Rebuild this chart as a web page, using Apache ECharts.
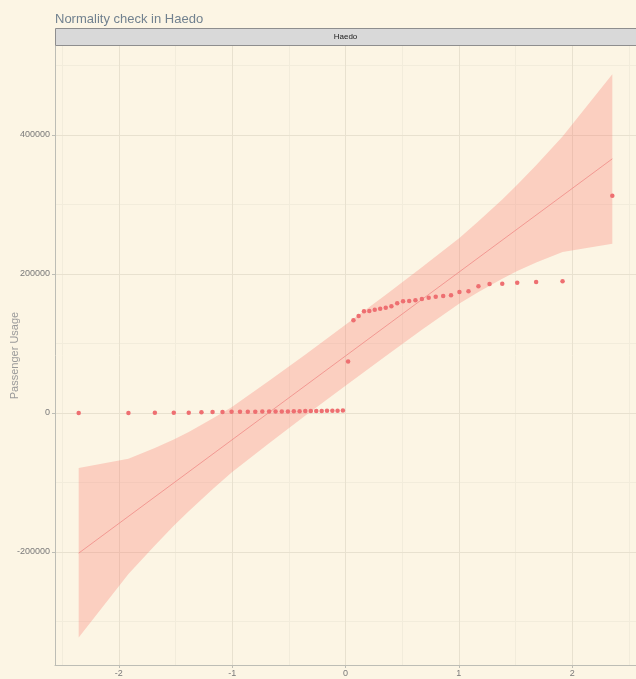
<!DOCTYPE html>
<html>
<head>
<meta charset="utf-8">
<script src="https://cdn.jsdelivr.net/npm/echarts@6/dist/echarts.min.js"></script>
<style>
  html, body { margin: 0; padding: 0; background: #FCF5E4; }
  #chart { width: 636px; height: 679px; }
</style>
</head>
<body>
<div id="chart"></div>
<script>
// Theoretical normal quantiles (x) and sorted passenger usage (y)
const theoretical = [
  -2.354, -1.915, -1.682, -1.515, -1.383, -1.271, -1.173, -1.085, -1.005, -0.931,
  -0.862, -0.796, -0.734, -0.674, -0.617, -0.562, -0.508, -0.456, -0.405, -0.355,
  -0.306, -0.258, -0.210, -0.163, -0.116, -0.070, -0.023,
   0.023,  0.070,  0.116,  0.163,  0.210,  0.258,  0.306,  0.355,  0.405,  0.456,
   0.508,  0.562,  0.617,  0.674,  0.734,  0.796,  0.862,  0.931,  1.005,  1.085,
   1.173,  1.271,  1.383,  1.515,  1.682,  1.915,  2.354
];
const usage = [
  0, 100, 200, 300, 400, 1200, 1300, 1500, 1600, 1700,
  1800, 1900, 2000, 2000, 2100, 2200, 2300, 2400, 2600, 2800,
  2900, 3000, 3000, 3100, 3200, 3300, 3400,
  74000, 133400, 139600, 146300, 146800, 148600, 150100, 151500, 153500, 157800,
  160700, 161100, 162200, 164000, 165900, 167300, 168300, 169300, 174100, 175100,
  182300, 185600, 186000, 187500, 188500, 189500, 312700
];

// Reference line end points
const lineX = [-2.354, 2.354];
const lineY = [-201700, 365700];

// Confidence band vertices
const bandX = [-2.354, -1.915, -1.682, -1.515, -1.383, -1.173, -1.005, -0.674, -0.356, 0,
               0.356, 0.674, 1.005, 1.173, 1.383, 1.515, 1.682, 1.915, 2.354];
const bandLower = [-323000, -231700, -190500, -162300, -141300, -109900, -85600, -43600, -4100, 39000,
                   82100, 119600, 157600, 173900, 193300, 204300, 216500, 231700, 243500];
const bandUpper = [-79000, -65700, -50500, -38300, -27300, -7900, 8400, 46400, 83900, 127000,
                   170100, 209600, 251600, 275900, 307300, 328300, 356500, 397700, 487500];

// Axis breaks
const xTicks = [-2, -1, 0, 1, 2];
const yTicks = [-200000, 0, 200000, 400000];
const xMinor = [-2.5, -1.5, -0.5, 0.5, 1.5, 2.5];
const yMinor = [-300000, -100000, 100000, 300000, 500000];

const gridLeft = 55, gridTop = 46, gridRight = 0, gridBottom = 14;
const chartW = 636;

const majorStyle = { color: '#E8E1CF', width: 1, type: 'solid' };
const minorStyle = { color: '#F2ECDB', width: 1, type: 'solid' };

const gridMarks = []
  .concat(xMinor.map(v => ({ xAxis: v, lineStyle: minorStyle })))
  .concat(yMinor.map(v => ({ yAxis: v, lineStyle: minorStyle })))
  .concat(xTicks.map(v => ({ xAxis: v, lineStyle: majorStyle })))
  .concat(yTicks.map(v => ({ yAxis: v, lineStyle: majorStyle })));

const fontFamily = '"Liberation Sans", Arial, sans-serif';

const chart = echarts.init(document.getElementById('chart'), null, { renderer: 'canvas' });

chart.setOption({
  backgroundColor: '#FCF5E4',
  animation: false,
  textStyle: { fontFamily: fontFamily },
  title: {
    text: 'Normality check in Haedo',
    left: 50,
    top: 8,
    textStyle: { color: '#71818F', fontSize: 13, fontWeight: 'normal', fontFamily: fontFamily }
  },
  grid: {
    left: gridLeft, top: gridTop, right: gridRight, bottom: gridBottom,
    containLabel: false, outerBoundsMode: 'none'
  },
  xAxis: {
    type: 'value',
    min: -2.563,
    max: 2.563,
    axisLine: { show: true, onZero: false, lineStyle: { color: '#BDBDB5', width: 1 } },
    axisTick: { show: true, customValues: xTicks, length: 3, lineStyle: { color: '#BDBDB5' } },
    axisLabel: {
      customValues: xTicks, color: '#7A7A7A', fontSize: 9, margin: 4, fontFamily: fontFamily,
      formatter: v => String(v)
    },
    splitLine: { show: false }
  },
  yAxis: {
    type: 'value',
    min: -362600,
    max: 528000,
    name: 'Passenger Usage',
    nameLocation: 'middle',
    nameGap: 35,
    nameMoveOverlap: false,
    nameTextStyle: { color: '#9A9A9A', fontSize: 11, fontFamily: fontFamily },
    axisLine: { show: true, onZero: false, lineStyle: { color: '#BDBDB5', width: 1 } },
    axisTick: { show: true, customValues: yTicks, length: 3, lineStyle: { color: '#BDBDB5' } },
    axisLabel: {
      customValues: yTicks, color: '#7A7A7A', fontSize: 9, margin: 5, fontFamily: fontFamily,
      formatter: v => String(v)
    },
    splitLine: { show: false }
  },
  graphic: [
    {
      type: 'rect',
      shape: { x: gridLeft + 0.5, y: 28.5, width: chartW - gridLeft, height: 17 },
      style: { fill: '#D9D9D9', stroke: '#8E8E8E', lineWidth: 1 },
      z: 10
    },
    {
      type: 'text',
      x: gridLeft + (chartW - gridLeft) / 2,
      y: 37,
      style: { text: 'Haedo', fill: '#1A1A1A', fontSize: 8, fontFamily: fontFamily, align: 'center', verticalAlign: 'middle' },
      z: 11
    }
  ],
  series: [
    {
      // panel grid lines
      type: 'line',
      z: 0,
      silent: true,
      data: [[0, 0]],
      showSymbol: false,
      symbol: 'none',
      lineStyle: { opacity: 0 },
      markLine: {
        z: 0,
        silent: true,
        symbol: ['none', 'none'],
        label: { show: false },
        animation: false,
        data: gridMarks
      }
    },
    {
      // confidence band
      type: 'custom',
      z: 1,
      silent: true,
      data: [[0, 0]],
      renderItem: function (params, api) {
        const pts = [];
        for (let i = 0; i < bandX.length; i++) pts.push(api.coord([bandX[i], bandUpper[i]]));
        for (let i = bandX.length - 1; i >= 0; i--) pts.push(api.coord([bandX[i], bandLower[i]]));
        return {
          type: 'polygon',
          shape: { points: pts },
          style: { fill: 'rgba(248,118,109,0.3)', stroke: null }
        };
      }
    },
    {
      // reference line
      type: 'line',
      z: 2,
      silent: true,
      data: lineX.map((x, i) => [x, lineY[i]]),
      showSymbol: false,
      symbol: 'none',
      lineStyle: { color: '#F08A86', width: 0.8 }
    },
    {
      type: 'scatter',
      z: 3,
      silent: true,
      data: theoretical.map((x, i) => [x, usage[i]]),
      symbolSize: 4.5,
      itemStyle: { color: '#EE6F71', opacity: 1 }
    }
  ]
});
</script>
</body>
</html>
